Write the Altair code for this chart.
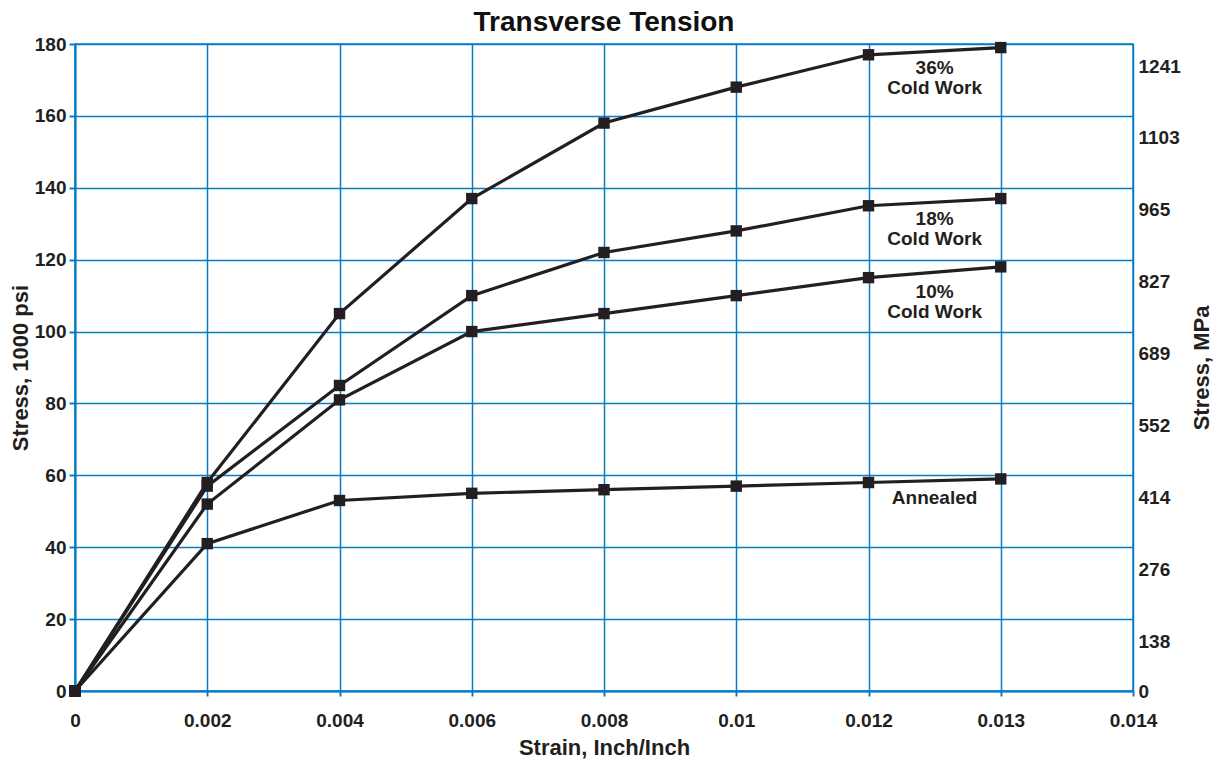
import altair as alt
import pandas as pd

# ---- data ----
strain_ticks = ["0", "0.002", "0.004", "0.006", "0.008", "0.01", "0.012", "0.013", "0.014"]
strain_pts = ["0", "0.002", "0.004", "0.006", "0.008", "0.01", "0.012", "0.013"]

series_names = ["36% Cold Work", "18% Cold Work", "10% Cold Work", "Annealed"]
cw36 = [0, 58, 105, 137, 158, 168, 177, 179]
cw18 = [0, 57, 85, 110, 122, 128, 135, 137]
cw10 = [0, 52, 81, 100, 105, 110, 115, 118]
annealed = [0, 41, 53, 55, 56, 57, 58, 59]

ksi_ticks = [0, 20, 40, 60, 80, 100, 120, 140, 160, 180]
mpa_ticks = [0, 138, 276, 414, 552, 689, 827, 965, 1103, 1241]
KSI_TO_MPA = 6.895

ann_text = ["36%\nCold Work", "18%\nCold Work", "10%\nCold Work", "Annealed"]
ann_pos = [6.5, 6.5, 6.5, 6.5]
ann_stress = [173.3, 131.2, 111.0, 53.7]

# ---- tables ----
rows = []
for name, vals in zip(series_names, [cw36, cw18, cw10, annealed]):
    for s, v in zip(strain_pts, vals):
        rows.append({"series": name, "pos": strain_ticks.index(s), "strain": s,
                     "stress": v, "mpa": v * KSI_TO_MPA})
df = pd.DataFrame(rows)
ann = pd.DataFrame({"text": ann_text, "pos": ann_pos, "stress": ann_stress})

BLUE = "#0a7bc6"
INK = "#231f20"
FONT = "Liberation Sans"
LBL = 19
TTL = 22

label_expr = "[" + ",".join("'" + t + "'" for t in strain_ticks) + "][datum.value]"

x_enc = alt.X(
    "pos:Q",
    scale=alt.Scale(domain=[0, len(strain_ticks) - 1], nice=False, zero=True),
    axis=alt.Axis(
        values=list(range(len(strain_ticks))), labelExpr=label_expr,
        title="Strain, Inch/Inch", grid=True, gridColor=BLUE, gridWidth=1.5,
        domainColor=BLUE, domainWidth=2, tickColor=BLUE, tickWidth=2, tickSize=5,
        labelPadding=15, titlePadding=7, labelFlush=False,
        labelFont=FONT, labelFontSize=LBL, labelFontWeight="bold", labelColor=INK,
        titleFont=FONT, titleFontSize=TTL, titleFontWeight="bold", titleColor=INK,
    ),
)

y_enc = alt.Y(
    "stress:Q",
    scale=alt.Scale(domain=[0, 180], nice=False),
    axis=alt.Axis(
        values=ksi_ticks, title="Stress, 1000 psi", grid=True, gridColor=BLUE,
        gridWidth=1.5, domainColor=BLUE, domainWidth=2, tickColor=BLUE,
        tickWidth=2, tickSize=6, labelPadding=3, titlePadding=2, labelFlush=False,
        labelFont=FONT, labelFontSize=LBL, labelFontWeight="bold", labelColor=INK,
        titleFont=FONT, titleFontSize=TTL, titleFontWeight="bold", titleColor=INK,
    ),
)

base = alt.Chart(df)
lines = base.mark_line(color=INK, strokeWidth=3.2).encode(
    x=x_enc, y=y_enc, detail="series:N", order="pos:Q")
points = base.mark_point(shape="square", filled=True, size=130, color=INK, opacity=1).encode(
    x="pos:Q", y="stress:Q")
labels = alt.Chart(ann).mark_text(
    font=FONT, fontSize=LBL, fontWeight="bold", color=INK, lineBreak="\n",
    lineHeight=20, align="center", baseline="middle").encode(
    x="pos:Q", y="stress:Q", text="text:N")

left = alt.layer(lines, points, labels)

right = base.mark_point(opacity=0).encode(
    x="pos:Q",
    y=alt.Y(
        "mpa:Q",
        scale=alt.Scale(domain=[0, 180 * KSI_TO_MPA], nice=False),
        axis=alt.Axis(
            orient="right", values=mpa_ticks, format="d", title="Stress, MPa",
            grid=False, domain=False, ticks=False, labelPadding=5, titlePadding=11,
            labelFlush=False,
            labelOffset={"condition": {"test": "datum.value === 0", "value": 0}, "value": 22},
            titleAngle=270, titleBaseline="top",
            labelFont=FONT, labelFontSize=LBL, labelFontWeight="bold", labelColor=INK,
            titleFont=FONT, titleFontSize=TTL, titleFontWeight="bold", titleColor=INK,
        ),
    ),
)

chart = alt.layer(left, right).resolve_scale(y="independent").properties(
    width=1058, height=647,
    title=alt.TitleParams("Transverse Tension", font=FONT, fontSize=28,
                          fontWeight="bold", color="#111111", offset=-2),
    autosize=alt.AutoSizeParams(type="none"),
    padding={"left": 67, "top": 36, "right": 80, "bottom": 70},
).configure_view(stroke=BLUE, strokeWidth=1.5)

chart.save("out.html", embed_options={"renderer": "svg", "actions": False})
